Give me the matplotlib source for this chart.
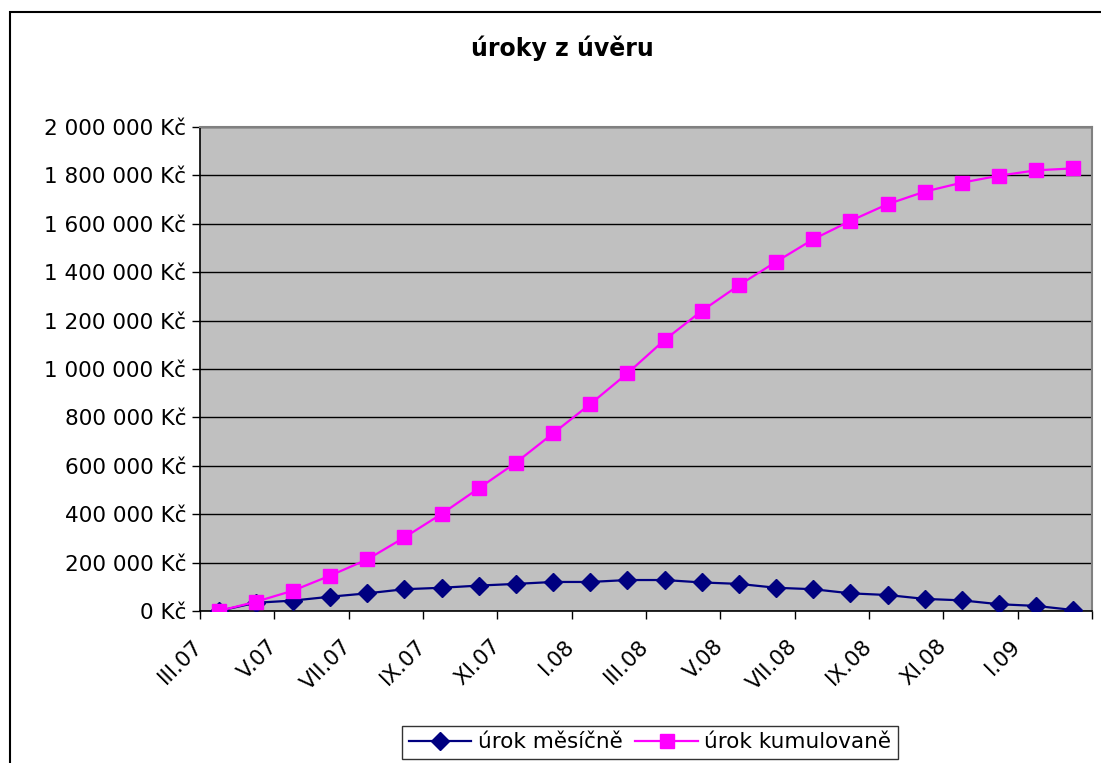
import matplotlib
matplotlib.use("Agg")
import matplotlib.pyplot as plt
import matplotlib.transforms as mtransforms
from matplotlib.patches import Rectangle
from matplotlib.ticker import FuncFormatter, FixedLocator
import numpy as np

plt.rcParams['font.family'] = ['DejaVu Sans']

# months III.07 .. II.09
months = ["III.07", "IV.07", "V.07", "VI.07", "VII.07", "VIII.07", "IX.07", "X.07",
          "XI.07", "XII.07", "I.08", "II.08", "III.08", "IV.08", "V.08", "VI.08",
          "VII.08", "VIII.08", "IX.08", "X.08", "XI.08", "XII.08", "I.09", "II.09"]

urok_mesicne = [0, 34000, 43000, 59000, 73000, 90000, 96000, 105000, 112000, 120000,
                120000, 128000, 128000, 118000, 112000, 96000, 90000, 73000, 66000,
                50000, 44000, 28000, 21000, 4000]

urok_kumulovane = [0, 38000, 84000, 146000, 213000, 304000, 401000, 507000, 613000,
                   734000, 855000, 982000, 1120000, 1240000, 1346000, 1443000,
                   1536000, 1612000, 1681000, 1733000, 1770000, 1799000, 1821000,
                   1829000]

W, H = 1101, 763
fig = plt.figure(figsize=(W / 100, H / 100), dpi=100)
fig.patch.set_facecolor("white")

# chart area frame (cut off on right and bottom)
fig.patches.append(Rectangle((10 / W, -0.05), 1.1, (H - 12) / H + 0.05,
                             transform=fig.transFigure, fill=False,
                             edgecolor="black", linewidth=1.5, zorder=0))

ax = fig.add_axes([200 / W, (H - 611) / H, 892 / W, 484 / H])
ax.set_facecolor("#C0C0C0")

x = np.arange(len(months))
ax.plot(x, urok_mesicne, color="#000080", marker="D", markersize=9, linewidth=1.6,
        label="úrok měsíčně", zorder=3)
ax.plot(x, urok_kumulovane, color="#FF00FF", marker="s", markersize=10, linewidth=1.6,
        label="úrok kumulovaně", zorder=3)

ax.set_xlim(-0.5, len(months) - 0.5)
ax.set_ylim(0, 2000000)
ax.set_yticks(np.arange(0, 2000001, 200000))
ax.yaxis.set_major_formatter(FuncFormatter(lambda v, p: f"{v:,.0f}".replace(",", " ") + " Kč"))
ax.grid(axis="y", color="black", linewidth=1)
ax.set_axisbelow(True)

# x: ticks at category borders every 2, labels at every 2nd category
ax.xaxis.set_major_locator(FixedLocator(np.arange(-0.5, len(months), 2)))
ax.tick_params(axis="x", which="major", labelbottom=False, length=6, width=1, direction="out")
ax.set_xticks(x[::2], minor=True)
ax.set_xticklabels(months[::2], minor=True, rotation=45, ha="right", va="top", fontsize=15.5)
ax.tick_params(axis="x", which="minor", length=0, pad=18)
offset = mtransforms.ScaledTranslation(-12 / 100, 0, fig.dpi_scale_trans)
for lbl in ax.xaxis.get_minorticklabels():
    lbl.set_transform(lbl.get_transform() + offset)

ax.tick_params(axis="y", length=6, width=1, labelsize=15.5, pad=4)

for side in ["top", "right"]:
    ax.spines[side].set_color("#808080")
    ax.spines[side].set_linewidth(1.5)
for side in ["left", "bottom"]:
    ax.spines[side].set_color("black")
    ax.spines[side].set_linewidth(1.2)

fig.text(562 / W, 1 - 48 / H, "úroky z úvěru", ha="center", va="center",
         fontsize=17, fontweight="bold")

leg = fig.legend(loc="upper center", bbox_to_anchor=(650 / W, 1 - 726 / H),
                 ncol=2, fontsize=15.5, frameon=True, fancybox=False,
                 edgecolor="black", handlelength=2.9, columnspacing=0.6,
                 handletextpad=0.3, borderpad=0.3, borderaxespad=0)
leg.get_frame().set_linewidth(1)

fig.savefig("out.png", dpi=100)
